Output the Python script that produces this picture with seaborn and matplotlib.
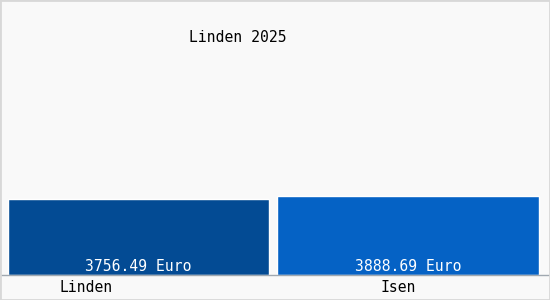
import matplotlib
matplotlib.use("Agg")
import matplotlib.pyplot as plt
import seaborn as sns
import pandas as pd
from matplotlib.patches import Rectangle

# data
categories = ["Linden", "Isen"]
values = [3756.49, 3888.69]
value_labels = ["3756.49 Euro", "3888.69 Euro"]
bar_colors = ["#034b94", "#0562c5"]
title = "Linden 2025"

sns.set_theme(style="white")
plt.rcParams["font.family"] = ["DejaVu Sans Mono", "DejaVu Sans"]

df = pd.DataFrame({"cat": categories, "val": values})

fig = plt.figure(figsize=(5.5, 3.0), dpi=100, facecolor="#f9f9f9")
ax = fig.add_axes([0, 25 / 300, 1, 275 / 300])
ax.set_facecolor("#f9f9f9")

sns.barplot(data=df, x="cat", y="val", hue="cat", palette=bar_colors,
            width=0.97, legend=False, ax=ax, saturation=1)

ax.set_xlim(-0.514, 1.527)
ax.set_ylim(0, 13593)

for sp in ["top", "left", "right"]:
    ax.spines[sp].set_visible(False)
ax.spines["bottom"].set_color("#a0a8b0")
ax.spines["bottom"].set_linewidth(1)
ax.set_xticks([])
ax.set_yticks([])
ax.set_xlabel("")
ax.set_ylabel("")

for i, (v, lab) in enumerate(zip(values, value_labels)):
    ax.annotate(lab, xy=(i, 0), xytext=(0, 1.0), textcoords="offset points",
                ha="center", va="bottom", color="white", fontsize=10.6)

# category labels below the axis
label_x = [86 / 550, 398 / 550]
for xf, cat in zip(label_x, categories):
    fig.text(xf, 1 - 288 / 300, cat, ha="center", va="center",
             fontsize=10.6, color="black")

fig.text(238 / 550, 1 - 38 / 300, title, ha="center", va="center",
         fontsize=10.6, color="black")

fig.patches.append(Rectangle((0, 0), 1, 1, transform=fig.transFigure,
                             fill=False, edgecolor="#d8d8d8", linewidth=2))

fig.savefig("out.png", dpi=100, facecolor=fig.get_facecolor())
